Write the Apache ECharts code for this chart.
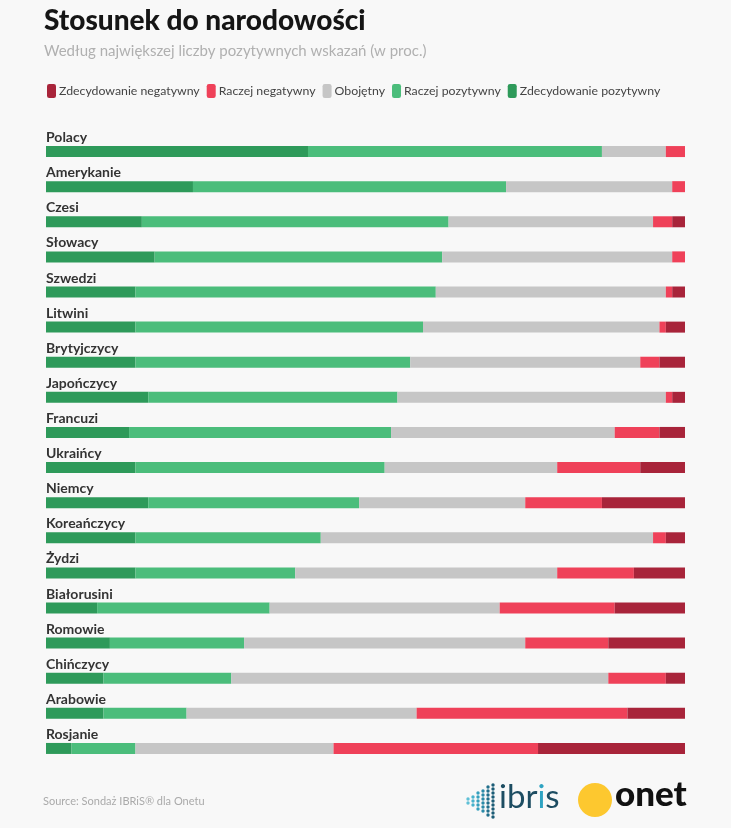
<!DOCTYPE html>
<html>
<head>
<meta charset="utf-8">
<title>Stosunek do narodowości</title>
<script src="https://cdn.jsdelivr.net/npm/echarts@6/dist/echarts.min.js"></script>
<style>
  html, body { margin: 0; padding: 0; background: #f8f8f8; }
  #chart { width: 731px; height: 828px; }
</style>
</head>
<body>
<div id="chart"></div>
<script>
// kategorie (od góry)
var nations = ['Polacy', 'Amerykanie', 'Czesi', 'Słowacy', 'Szwedzi', 'Litwini', 'Brytyjczycy',
  'Japończycy', 'Francuzi', 'Ukraińcy', 'Niemcy', 'Koreańczycy', 'Żydzi', 'Białorusini',
  'Romowie', 'Chińczycy', 'Arabowie', 'Rosjanie'];

// wartości w proc.
var zdecPozytywny = [41, 23, 15, 17, 14, 14, 14, 16, 13, 14, 16, 14, 14, 8, 10, 9, 9, 4];
var raczejPozytywny = [46, 49, 48, 45, 47, 45, 43, 39, 41, 39, 33, 29, 25, 27, 21, 20, 13, 10];
var obojetny = [10, 26, 32, 36, 36, 37, 36, 42, 35, 27, 26, 52, 41, 36, 44, 59, 36, 31];
var raczejNegatywny = [3, 2, 3, 2, 1, 1, 3, 1, 7, 13, 12, 2, 12, 18, 13, 9, 33, 32];
var zdecNegatywny = [0, 0, 2, 0, 2, 3, 4, 2, 4, 7, 13, 3, 8, 11, 12, 3, 9, 23];

var legendOrder = ['Zdecydowanie negatywny', 'Raczej negatywny', 'Obojętny', 'Raczej pozytywny', 'Zdecydowanie pozytywny'];

var chart = echarts.init(document.getElementById('chart'));
var font = 'Lato, "Noto Sans", sans-serif';

function bar(name, data, color) {
  return {
    name: name,
    type: 'bar',
    stack: 'all',
    barWidth: 11,
    data: data,
    itemStyle: { color: color },
    emphasis: { disabled: true },
    silent: true
  };
}

// logo ibris - kropki w kształcie strzałki
var dots = [];
var cols = [2, 3, 5, 6, 8, 9];
var dotColors = ['#5fc0d6', '#47b2cc', '#35a0bd', '#2a8aa8', '#216f8c', '#1c5c76'];
for (var c = 0; c < cols.length; c++) {
  for (var r = 0; r < cols[c]; r++) {
    dots.push({
      type: 'circle',
      shape: { cx: 468 + c * 5, cy: 801 + (r - (cols[c] - 1) / 2) * 4, r: 1.7 },
      style: { fill: dotColors[c] }
    });
  }
}

var option = {
  backgroundColor: '#f8f8f8',
  animation: false,
  textStyle: { fontFamily: font },
  title: {
    text: 'Stosunek do narodowości',
    subtext: 'Według największej liczby pozytywnych wskazań (w proc.)',
    left: 39,
    top: 2,
    itemGap: 9,
    textStyle: { fontSize: 28, fontWeight: 900, color: '#151515', fontFamily: font },
    subtextStyle: { fontSize: 15, color: '#b0b0b0', fontFamily: font }
  },
  legend: {
    data: legendOrder,
    left: 42,
    top: 79,
    icon: 'roundRect',
    itemWidth: 9,
    itemHeight: 14,
    itemGap: 7,
    textStyle: { fontSize: 12.3, color: '#444', padding: [0, 0, 0, -2] },
    selectedMode: false
  },
  grid: { left: 46, right: 46, top: 134, height: 632 },
  xAxis: {
    type: 'value',
    min: 0,
    max: 100,
    show: false
  },
  yAxis: {
    type: 'category',
    data: nations,
    inverse: true,
    axisLine: { show: false },
    axisTick: { show: false },
    splitLine: { show: false },
    axisLabel: {
      inside: true,
      margin: 0,
      verticalAlign: 'bottom',
      padding: [0, 0, 7, 0],
      fontSize: 14,
      fontWeight: 'bold',
      color: '#333',
      fontFamily: font
    }
  },
  series: [
    bar('Zdecydowanie pozytywny', zdecPozytywny, '#2e9a5a'),
    bar('Raczej pozytywny', raczejPozytywny, '#4bbd7b'),
    bar('Obojętny', obojetny, '#c6c6c6'),
    bar('Raczej negatywny', raczejNegatywny, '#ef4159'),
    bar('Zdecydowanie negatywny', zdecNegatywny, '#a8243a')
  ],
  graphic: [
    {
      type: 'text',
      left: 43,
      top: 796,
      style: { text: 'Source: Sondaż IBRiS® dla Onetu', fontSize: 11, fill: '#aaa', fontFamily: font }
    },
    { type: 'group', children: dots },
    {
      type: 'text',
      left: 499,
      top: 781,
      style: {
        text: '{d|ibr}{t|i}{d|s}',
        fontFamily: font,
        rich: {
          d: { fontSize: 33, fill: '#1d4d62', fontFamily: font },
          t: { fontSize: 33, fill: '#2ea3c2', fontFamily: font }
        }
      }
    },
    {
      type: 'circle',
      shape: { cx: 595, cy: 800, r: 17 },
      style: { fill: '#fdc82f' }
    },
    {
      type: 'text',
      left: 615,
      top: 777,
      style: { text: 'onet', fontSize: 35, fontWeight: 900, fill: '#111', fontFamily: font }
    }
  ]
};

chart.setOption(option);
</script>
</body>
</html>
